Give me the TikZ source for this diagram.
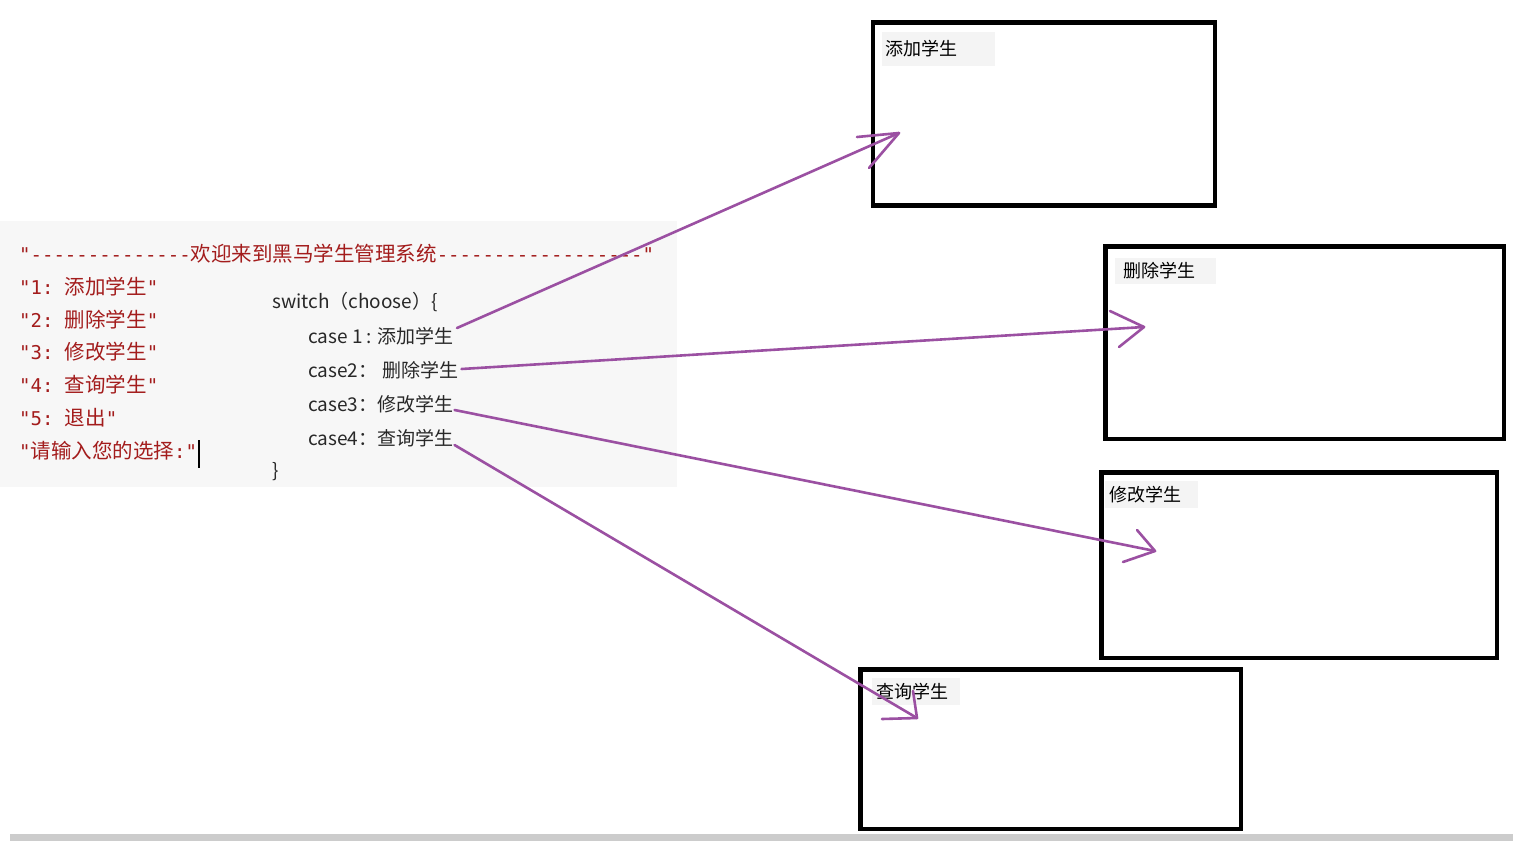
\documentclass[tikz,border=0pt]{standalone}
\usepackage{fontspec}
\setmainfont{Noto Sans CJK SC}
\setmonofont{DejaVu Sans Mono}
\usetikzlibrary{calc}
\definecolor{codered}{RGB}{163,28,28}
\definecolor{arrowpurple}{RGB}{155,80,162}
\definecolor{panel}{RGB}{247,247,247}
\definecolor{labelbg}{RGB}{244,244,244}
\definecolor{codeblack}{RGB}{40,40,40}
\definecolor{stripgray}{RGB}{204,204,204}
\newcommand\mt[1]{{\ttfamily\fontsize{19}{20}\selectfont #1}}
\newcommand\ct[1]{{\fontsize{20.5}{22}\selectfont #1}}
\begin{document}
\begin{tikzpicture}[x=1pt,y=-1pt,
  redline/.style={anchor=west,inner sep=0pt,text=codered},
  codeline/.style={anchor=west,inner sep=0pt,text=codeblack,font=\fontsize{19}{21}\selectfont},
  box/.style={draw=black,line width=4.5pt,anchor=north west,inner sep=0pt,outer sep=0pt},
  boxlabel/.style={anchor=west,fill=labelbg,inner xsep=3pt,inner ysep=0pt,font=\fontsize{18}{20}\selectfont,text=black,align=left},
  arr/.style={draw=arrowpurple,line width=2.6pt,line cap=round,line join=round}]

\useasboundingbox (0,0) rectangle (1513,841);
\fill[white] (0,0) rectangle (1513,841);
\fill[panel] (0,221) rectangle (677,487);
\fill[stripgray] (10,834) rectangle (1513,841);

% red menu text
\node[redline] (r0) at (19,254) {\mt{"--------------}\ct{欢迎来到黑马学生管理系统}\mt{------------------"}};
\node[redline] (r1) at (19,287) {\mt{"1: }\ct{添加学生}\mt{"}};
\node[redline] (r2) at (19,320) {\mt{"2: }\ct{删除学生}\mt{"}};
\node[redline] (r3) at (19,352) {\mt{"3: }\ct{修改学生}\mt{"}};
\node[redline] (r4) at (19,385) {\mt{"4: }\ct{查询学生}\mt{"}};
\node[redline] (r5) at (19,418) {\mt{"5: }\ct{退出}\mt{"}};
\node[redline] (r6) at (19,451) {\mt{"}\ct{请输入您的选择}\mt{:"}};
\draw[line width=1.2pt,black] (199,440) -- (199,468);

% switch code
\node[codeline] (c0) at (272,302) {switch（choose）\{};
\node[codeline] (c1) at (308,336) {case 1 : 添加学生};
\node[codeline] (c2) at (308,370) {case2：\hspace{5pt}删除学生};
\node[codeline] (c3) at (308,404) {case3：修改学生};
\node[codeline] (c4) at (308,438) {case4：查询学生};
\node[codeline] (c5) at (272,472) {\}};

% boxes
\node[box,minimum width=342pt,minimum height=183pt] (b1) at (873,22.5) {};
\node[box,minimum width=398.5pt,minimum height=192.5pt] (b2) at (1105.5,246.5) {};
\node[box,minimum width=395.5pt,minimum height=185.5pt] (b3) at (1101.5,472.5) {};
\node[box,minimum width=380.5pt,minimum height=159.5pt] (b4) at (860.5,669.5) {};

% box labels
\node[boxlabel,text width=107pt,minimum height=34pt] (l1) at (882,49) {添加学生};
\node[boxlabel,text width=95pt,minimum height=26pt] (l2) at (1115,271) {\hspace{5pt}删除学生};
\node[boxlabel,text width=87pt,minimum height=27pt] (l3) at (1105,494.5) {\hspace{1pt}修改学生};
\node[boxlabel,text width=82pt,minimum height=27pt] (l4) at (872,691.5) {\hspace{1pt}查询学生};

% arrow tips
\coordinate (t1) at (899,133);
\coordinate (t2) at (1144,327);
\coordinate (t3) at (1155,551);
\coordinate (t4) at (917,718);

% connectors
\draw[arr] ($(c1.east)+(3,-8)$) -- (t1);
\draw[arr] ($(t1)+(-42,4)$) -- (t1) -- ($(t1)+(-30,35)$);
\draw[arr] ($(c2.east)+(3,-1)$) -- (t2);
\draw[arr] ($(t2)+(-34,-16)$) -- (t2) -- ($(t2)+(-25,20)$);
\draw[arr] ($(c3.east)+(1,6)$) -- (t3);
\draw[arr] ($(t3)+(-18,-21)$) -- (t3) -- ($(t3)+(-32,11)$);
\draw[arr] ($(c4.east)+(1,7)$) -- (t4);
\draw[arr] ($(t4)+(-4,-27)$) -- (t4) -- ($(t4)+(-35,1)$);
\end{tikzpicture}
\end{document}
